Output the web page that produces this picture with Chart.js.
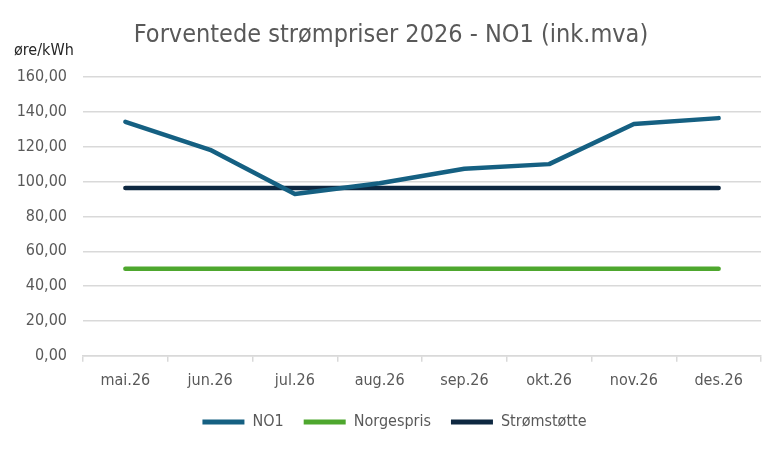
<!DOCTYPE html>
<html>
<head>
<meta charset="utf-8">
<script src="https://cdn.jsdelivr.net/npm/chart.js@4.4.1/dist/chart.umd.min.js"></script>
<style>
  html, body { margin: 0; padding: 0; background: #fff; }
  #wrap { width: 784px; height: 450px; position: relative; }
</style>
</head>
<body>
<div id="wrap"><canvas id="c"></canvas></div>
<script>
// data
const months      = ["mai.26", "jun.26", "jul.26", "aug.26", "sep.26", "okt.26", "nov.26", "des.26"];
const no1         = [134.3, 118.2, 92.8, 99.0, 107.3, 110.0, 133.0, 136.4];
const norgespris  = [50, 50, 50, 50, 50, 50, 50, 50];
const stromstotte = [96.25, 96.25, 96.25, 96.25, 96.25, 96.25, 96.25, 96.25];
const yMin = 0, yMax = 160, yStep = 20;
const titleText = "Forventede strømpriser 2026 - NO1 (ink.mva)";
const unitText  = "øre/kWh";

const FONT = "'Liberation Sans Narrow', 'DejaVu Sans Condensed', Roboto, sans-serif";
const GREY = "#595959";
const GRID = "#d9d9d9";

// title and unit label, placed like the Excel chart
const headings = {
  id: "headings",
  afterLayout(chart) {
    // Excel centres the legend a bit right of the chart box
    chart.legend.left += 14;
    chart.legend.right += 14;
  },
  afterDraw(chart) {
    const ctx = chart.ctx;
    ctx.save();
    ctx.textBaseline = "middle";
    ctx.font = "25px " + FONT;
    ctx.fillStyle = GREY;
    ctx.textAlign = "center";
    ctx.fillText(titleText, 391, 35);
    ctx.font = "16px " + FONT;
    ctx.fillStyle = "#262626";
    ctx.textAlign = "left";
    ctx.fillText(unitText, 14, 51);
    ctx.restore();
  },
};

function line(label, data, color) {
  return {
    label, data,
    borderColor: color, backgroundColor: color,
    borderWidth: 4.5, borderCapStyle: "round", borderJoinStyle: "round",
    pointRadius: 0, tension: 0, fill: false,
  };
}

new Chart(document.getElementById("c"), {
  type: "line",
  data: {
    labels: months,
    datasets: [
      line("NO1", no1, "#156082"),
      line("Norgespris", norgespris, "#4ea72e"),
      line("Strømstøtte", stromstotte, "#0e2841"),
    ],
  },
  options: {
    responsive: true,
    maintainAspectRatio: false,
    animation: false,
    layout: { padding: { left: 0, right: 23, top: 77, bottom: 10 } },
    plugins: {
      title: { display: false },
      legend: {
        position: "bottom",
        labels: {
          color: GREY,
          font: { family: FONT, size: 16 },
          boxWidth: 42, boxHeight: 5,
          padding: 20,
          generateLabels: (chart) =>
            Chart.defaults.plugins.legend.labels.generateLabels(chart)
              .map((l) => ({ ...l, lineWidth: 0 })),
        },
      },
      tooltip: { enabled: false },
    },
    scales: {
      x: {
        offset: true,
        afterFit: (s) => { s.height -= 5; },
        grid: { display: true, offset: true, drawOnChartArea: false, drawTicks: true, tickLength: 6, color: GRID, lineWidth: 1.5 },
        border: { display: true, color: GRID, width: 1.5 },
        ticks: { color: GREY, font: { family: FONT, size: 16 }, padding: 9, maxRotation: 0 },
      },
      y: {
        min: yMin, max: yMax,
        afterFit: (s) => { s.width = 83; },
        grid: { color: GRID, lineWidth: 1.5, drawTicks: false },
        border: { display: false },
        ticks: {
          stepSize: yStep,
          color: GREY,
          font: { family: FONT, size: 16 },
          padding: 16,
          callback: (v) => v.toFixed(2).replace(".", ","),
        },
      },
    },
  },
  plugins: [headings],
});
</script>
</body>
</html>
